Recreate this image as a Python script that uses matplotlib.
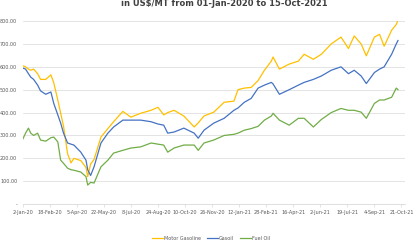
import matplotlib
matplotlib.use("Agg")
import matplotlib.pyplot as plt
from matplotlib.ticker import FuncFormatter
import pandas as pd

dates = ["2020-01-02","2020-01-07","2020-01-12","2020-01-16","2020-01-21","2020-01-28",
         "2020-02-02","2020-02-11","2020-02-20","2020-02-25","2020-03-03","2020-03-08",
         "2020-03-13","2020-03-20","2020-03-26","2020-03-31","2020-04-12","2020-04-21",
         "2020-04-24","2020-04-29","2020-05-05","2020-05-17","2020-05-29","2020-06-08",
         "2020-06-24","2020-07-08","2020-07-25","2020-08-12","2020-08-24","2020-09-03",
         "2020-09-10","2020-09-21","2020-10-08","2020-10-26","2020-11-02","2020-11-12",
         "2020-11-29","2020-12-17","2021-01-03","2021-01-10","2021-01-21","2021-02-02",
         "2021-02-14","2021-02-25","2021-03-09","2021-03-12","2021-03-23","2021-04-09",
         "2021-04-25","2021-05-05","2021-05-21","2021-06-04","2021-06-21","2021-07-08",
         "2021-07-21","2021-07-31","2021-08-12","2021-08-21","2021-09-04","2021-09-13",
         "2021-09-21","2021-10-04","2021-10-12","2021-10-15"]

motor_gasoline = [605,600,590,585,590,570,545,545,565,530,455,397,340,220,180,200,190,160,
                  120,175,195,293,330,360,405,380,397,410,423,390,400,410,385,337,355,385,
                  402,445,450,500,507,510,540,585,625,643,590,612,625,655,633,655,700,730,
                  680,735,700,648,730,742,690,760,785,805]
gasoil = [595,590,570,555,545,520,495,480,490,440,390,354,310,267,262,258,227,192,
          150,125,163,267,310,337,367,367,367,360,350,345,310,315,332,310,288,323,
          354,375,410,420,445,462,507,520,532,525,480,500,520,532,545,560,585,600,
          570,585,560,527,575,590,600,655,700,715]
fuel_oil = [283,310,332,310,300,310,280,275,290,293,272,192,178,157,150,148,140,120,
            83,95,92,163,192,223,235,245,250,267,262,258,227,245,258,258,235,267,
            280,300,305,310,323,330,340,367,385,397,367,345,375,375,337,370,400,418,
            410,410,402,375,440,455,455,467,507,500]

series = [("Motor Gasoline", motor_gasoline, "#FFC000"),
          ("Gasoil", gasoil, "#4472C4"),
          ("Fuel Oil", fuel_oil, "#70AD47")]

x = pd.to_datetime(dates)

fig = plt.figure(figsize=(4.2, 2.45), dpi=100)
ax = fig.add_axes([0.054, 0.167, 0.910, 0.747])

for name, vals, col in series:
    ax.plot(x, vals, color=col, lw=0.9, label=name)

ax.set_ylim(0, 800)
ax.set_yticks(range(0, 801, 100))
ax.yaxis.set_major_formatter(FuncFormatter(lambda v, p: "-" if v == 0 else f"{v:.2f}"))
ax.grid(axis="y", color="#D9D9D9", lw=0.5)
ax.set_axisbelow(True)

start = pd.Timestamp("2020-01-02")
ticks = pd.date_range(start, periods=15, freq="47D")
ax.set_xticks(ticks)
ax.set_xticklabels([f"{t.day}-{t.strftime('%b-%y')}" for t in ticks])
ax.set_xlim(start, pd.Timestamp("2021-10-27"))

for s in ["top", "right", "left"]:
    ax.spines[s].set_visible(False)
ax.spines["bottom"].set_color("#D9D9D9")
ax.spines["bottom"].set_linewidth(0.6)
ax.tick_params(axis="y", length=0, labelsize=3.5, labelcolor="#595959", pad=4)
ax.tick_params(axis="x", length=2, width=0.5, color="#D9D9D9", labelsize=3.5,
               labelcolor="#595959", pad=2.5)

fig.text(0.535, 1 - 3.5/245, "in US$/MT from 01-Jan-2020 to 15-Oct-2021", ha="center",
         va="center", fontsize=6, fontweight="bold", color="#404040")

fig.legend(loc="center", bbox_to_anchor=(211/420, 1 - 238/245), ncol=3, frameon=False,
           fontsize=3.5, handlelength=2.3, columnspacing=1.2, handletextpad=0.2,
           labelcolor="#595959")

fig.savefig("out.png", dpi=100)
